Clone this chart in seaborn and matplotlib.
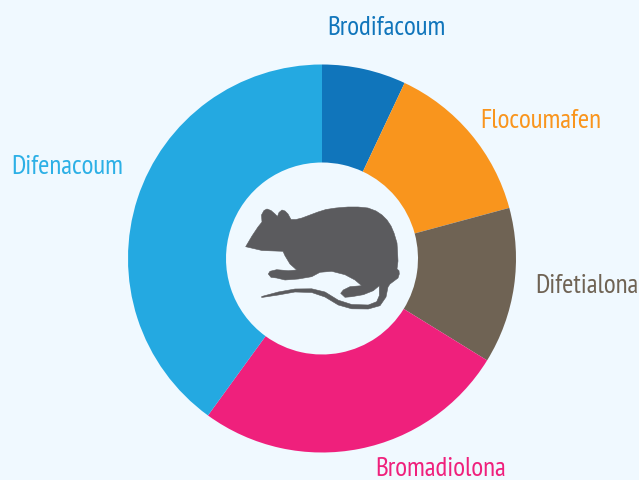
import matplotlib
matplotlib.use("Agg")
import matplotlib.pyplot as plt
from matplotlib.patches import Polygon
import seaborn as sns

compounds = ["Brodifacoum", "Flocoumafen", "Difetialona", "Bromadiolona", "Difenacoum"]
shares = [7, 13.8, 13, 26.2, 40]
colors = ["#1075BB", "#F9951D", "#6F6354", "#EF207C", "#24A9E1"]
label_colors = ["#1075BB", "#F9951D", "#6F6354", "#EF207C", "#2CB0E6"]
label_pos = [(386.5, 28), (541, 121), (587, 286), (440.5, 469), (67.5, 167)]

BG = "#F0F9FF"
W, H = 639, 481

sns.set_theme(style="white", rc={"figure.facecolor": BG, "axes.facecolor": BG})
plt.rcParams["font.family"] = ["PT Sans Narrow", "Liberation Sans"]

fig = plt.figure(figsize=(W / 100, H / 100), dpi=100, facecolor=BG)
ax = fig.add_axes([0, 0, 1, 1])

ax.pie(shares, colors=colors, startangle=90, counterclock=False,
       center=(322, H - 259.5), radius=194, frame=True,
       wedgeprops=dict(width=98, linewidth=0))
ax.set_xlim(0, W)
ax.set_ylim(0, H)
ax.set_aspect("equal")
ax.axis("off")

for name, c, (x, y) in zip(compounds, label_colors, label_pos):
    ax.text(x, H - y, name, color=c, fontsize=19.5, ha="center", va="center")

# rat silhouette icon, outline in image pixels
rat = [(245.7,247.7),(252,237),(258,228),(262,223),(261.5,216),(264,211.5),(267,210),(271,211.5),
       (275,215),(277.5,217.5),(279,213.5),(282,211),(285,212),(288,215),(291,220.5),(296,220.5),
       (302,219),(310,216),(318,213),(326,210.5),(336,209),(348,208),(358,208),(368,209),(376,212),
       (382,216),(387,221),(391,227),(394,234),(397,244),(397.5,252),(398,262),(397,270),(399,271.7),
       (399.3,275),(398,279),(390,285),(388,288),(386,298),(380,306.7),(368.3,310),(351.7,309.8),
       (338.3,306),(325,298),(311.7,293.5),(295,293),(278.3,296),(261.7,298.5),(261.7,297.5),
       (278.3,293),(295,290),(311.7,289.8),(325,293),(338.3,301.2),(351.7,305.5),(368.3,306),
       (376.7,302.7),(379.3,296.7),(379.3,286.7),(373.3,291.7),(363.3,295.7),(351.7,297.7),(345,298.3),
       (340.7,294.3),(343.3,291),(350,287.7),(361.7,286.7),(355,281),(345,275.7),(331.7,272.3),
       (320,273.3),(311.7,277.7),(298.3,280),(285,281),(276.7,279),(271,278.3),(268.3,275),(270,272.3),
       (276.7,270.7),(288.3,271.7),(296.7,271),(290,265),(285,256.7),(283,252.3),(262,251.5)]
ax.add_patch(Polygon([(x, H - y) for x, y in rat], closed=True, facecolor="#5B5B5E",
                     edgecolor="#5B5B5E", linewidth=0.4, joinstyle="round", zorder=5))

fig.savefig("out.png", dpi=100, facecolor=BG)
